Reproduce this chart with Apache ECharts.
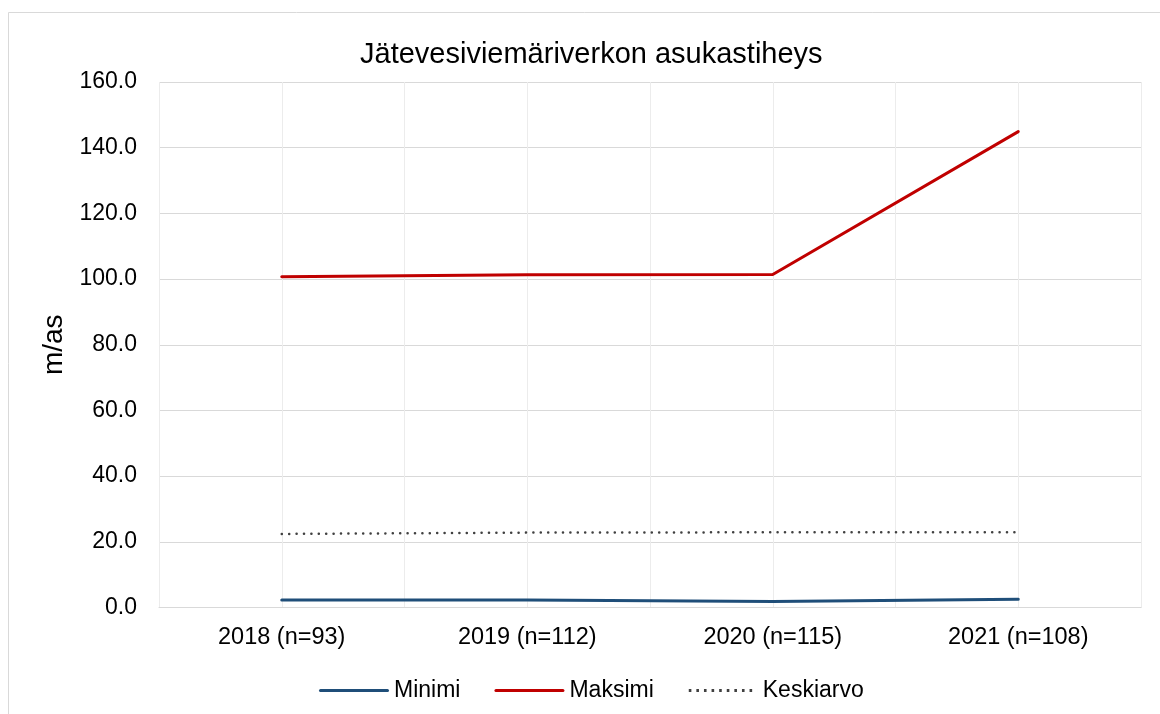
<!DOCTYPE html>
<html>
<head>
<meta charset="utf-8">
<script src="https://cdn.jsdelivr.net/npm/echarts@6/dist/echarts.min.js"></script>
<style>html,body{margin:0;padding:0;background:#fff}#c{width:1160px;height:714px}</style>
</head>
<body>
<div id="c"></div>
<script>
const categories = ['2018 (n=93)', '2019 (n=112)', '2020 (n=115)', '2021 (n=108)'];
const minimi = [2.3, 2.3, 1.8, 2.5];
const maksimi = [100.7, 101.3, 101.4, 144.9];
const keskiarvo = [22.4, 22.8, 22.9, 22.9];
const yTicks = { min: 0, max: 160, interval: 20 };

const halfSlots = categories.flatMap(c => [c + ' a', c + ' b']);
const font = 'Liberation Sans, Arial, sans-serif';
const solidIcon = 'path://M1.5,0H68.5A1.5,1.5,0,0,1,68.5,3H1.5A1.5,1.5,0,0,1,1.5,0Z';
let dotted = 'path://';
for (let i = 0; i < 9; i++) { const x = 1 + i * 7.6; dotted += 'M' + x + ',0h2.6v3h-2.6Z'; }
dotted += 'M0,0h0.01v3h-0.01ZM70,0h0.01v3h-0.01Z';
const chart = echarts.init(document.getElementById('c'), null, { renderer: 'canvas' });
chart.setOption({
  animation: false,
  backgroundColor: '#fff',
  graphic: [{
    type: 'rect', left: 6, top: 10, silent: true,
    shape: { x: 0.5, y: 0.5, width: 2000, height: 2000 },
    style: { fill: 'none', stroke: '#d9d9d9', lineWidth: 1 }
  }],
  title: {
    text: 'Jätevesiviemäriverkon asukastiheys',
    left: 355, top: 35,
    textStyle: { fontFamily: font, fontSize: 29, fontWeight: 'normal', color: '#000' }
  },
  legend: {
    left: 314, top: 674,
    itemWidth: 70, itemHeight: 3, itemGap: 34,
    textStyle: { fontFamily: font, fontSize: 23, color: '#000', lineHeight: 22 },
    itemStyle: { borderWidth: 0 },
    data: [
      { name: 'Minimi', icon: solidIcon, itemStyle: { color: '#1F4E79', borderWidth: 0 } },
      { name: 'Maksimi', icon: solidIcon, itemStyle: { color: '#C00000', borderWidth: 0 } },
      { name: 'Keskiarvo', icon: dotted, itemStyle: { color: '#404040', borderWidth: 0 } }
    ]
  },
  grid: { left: 159, right: 19, top: 82, bottom: 106.5, containLabel: false },
  xAxis: [{
    type: 'category', data: categories, boundaryGap: true,
    axisLine: { show: true, lineStyle: { color: '#d9d9d9', width: 1 } },
    axisTick: { show: false },
    axisLabel: { margin: 18, fontFamily: font, fontSize: 23.5, color: '#000' },
    splitLine: { show: true, lineStyle: { color: '#ececec', width: 1 } }
  }, {
    type: 'category', data: halfSlots, boundaryGap: true, position: 'bottom',
    axisLine: { show: false }, axisTick: { show: false }, axisLabel: { show: false },
    splitLine: { show: true, lineStyle: { color: '#ececec', width: 1 } }
  }],
  yAxis: {
    type: 'value', min: yTicks.min, max: yTicks.max, interval: yTicks.interval,
    name: 'm/as', nameLocation: 'middle', nameRotate: 90, nameGap: 88,
    nameTextStyle: { fontFamily: font, fontSize: 28, color: '#000' },
    axisLine: { show: false }, axisTick: { show: false },
    axisLabel: { margin: 22, fontFamily: font, fontSize: 23, color: '#000', formatter: v => v.toFixed(1) },
    splitLine: { show: true, lineStyle: { color: '#d9d9d9', width: 1 } }
  },
  series: [
    { name: 'Minimi', type: 'line', data: minimi, xAxisIndex: 0, symbol: 'none', color: '#1F4E79',
      lineStyle: { color: '#1F4E79', width: 3, cap: 'round' }, z: 3 },
    { name: 'Maksimi', type: 'line', data: maksimi, xAxisIndex: 0, symbol: 'none', color: '#C00000',
      lineStyle: { color: '#C00000', width: 3, cap: 'round' }, z: 3 },
    { name: 'Keskiarvo', type: 'line', data: keskiarvo, xAxisIndex: 0, symbol: 'none', color: '#404040',
      lineStyle: { color: '#404040', width: 2.5, type: [0.1, 7.3], cap: 'round' }, z: 3 }
  ]
});
</script>
</body>
</html>
